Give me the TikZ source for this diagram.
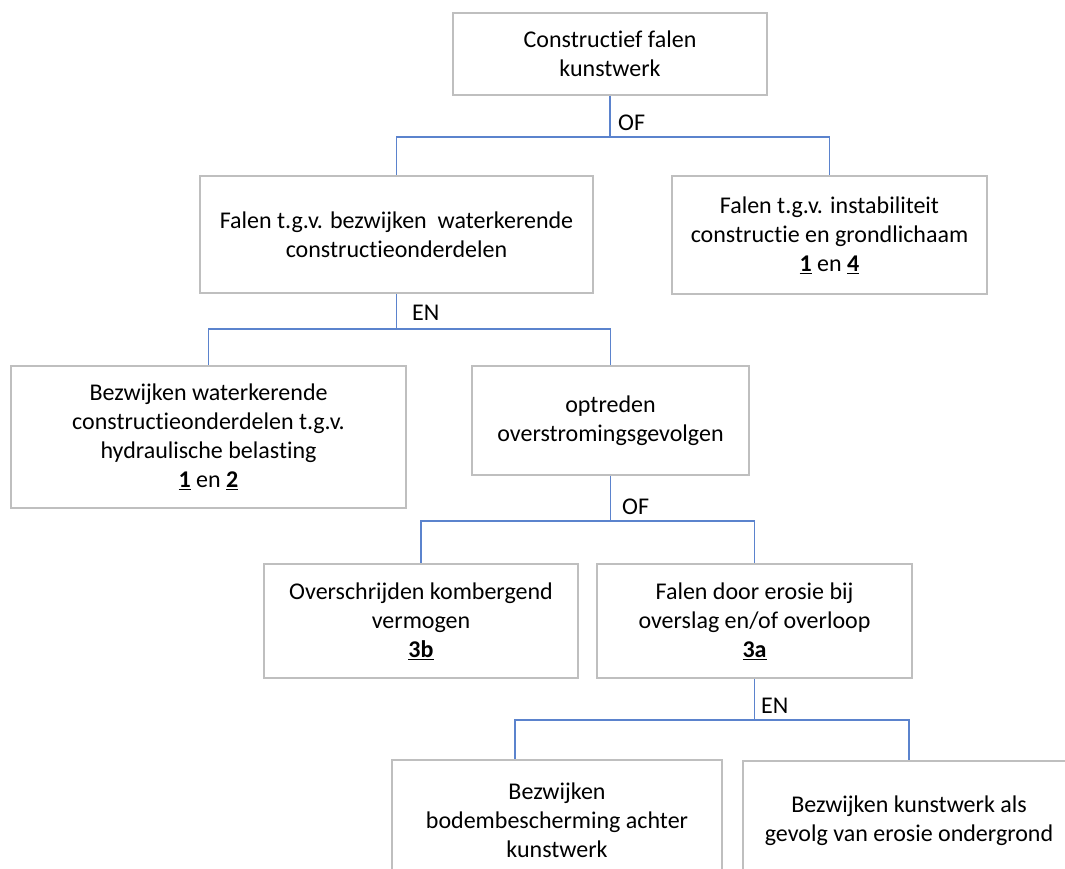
\documentclass[tikz,border=0pt]{standalone}
\usepackage{fontspec}
\setmainfont{Carlito}[Ligatures=NoCommon]
\tikzset{
  blok/.style={draw=black!25, line width=1.6pt, fill=white, inner sep=0pt, align=center,
    font=\fontsize{24}{29}\selectfont},
  lijn/.style={line width=1.1pt, color={rgb,255:red,91;green,131;blue,205}},
  poort/.style={anchor=west, inner sep=0pt, font=\fontsize{24}{29}\selectfont}
}
\newcommand{\nr}[1]{\underline{\textbf{#1}}}

\begin{document}
\begin{tikzpicture}[x=1pt,y=-1pt]
\useasboundingbox (0,0) rectangle (1065,869);
\clip (0,0) rectangle (1065,869);
\node[blok, minimum width=314pt, minimum height=82pt] (top) at (610,54) {Constructief falen\\kunstwerk};
\node[blok, minimum width=393pt, minimum height=117pt] (bezw) at (396.5,234.5) {Falen t.g.v. bezwijken~ waterkerende\\constructieonderdelen};
\node[blok, minimum width=315pt, minimum height=118pt] (inst) at (829.5,235) {Falen t.g.v. instabiliteit\\constructie en grondlichaam\\\nr{1} en \nr{4}};
\node[blok, minimum width=395pt, minimum height=142pt] (hydr) at (208.5,437) {Bezwijken waterkerende\\constructieonderdelen t.g.v.\\hydraulische belasting\\\nr{1} en \nr{2}};
\node[blok, minimum width=277pt, minimum height=109pt] (gevolg) at (610.5,420.5) {optreden\\overstromingsgevolgen};
\node[blok, minimum width=314pt, minimum height=114pt] (komb) at (421,621) {Overschrijden kombergend\\vermogen\\\nr{3b}};
\node[blok, minimum width=315pt, minimum height=114pt] (erosie) at (754.5,621) {Falen door erosie bij\\overslag en/of overloop\\\nr{3a}};
\node[blok, minimum width=330pt, minimum height=120pt] (bodem) at (557,820) {Bezwijken\\bodembescherming achter\\kunstwerk};
\node[blok, minimum width=332pt, minimum height=119pt] (onder) at (909,820.5) {Bezwijken kunstwerk als\\gevolg van erosie ondergrond};

\coordinate (j1) at (top.south |- 0,137);
\coordinate (j2) at (bezw.south |- 0,329);
\coordinate (j3) at (gevolg.south |- 0,521);
\coordinate (j4) at (erosie.south |- 0,720);
\draw[lijn] (top.south) -- (j1);
\draw[lijn] (j1) -| (bezw.north);
\draw[lijn] (j1) -| (inst.north);
\draw[lijn] (bezw.south) -- (j2);
\draw[lijn] (j2) -| (hydr.north);
\draw[lijn] (j2) -| (gevolg.north);
\draw[lijn] (gevolg.south) -- (j3);
\draw[lijn] (j3) -| (komb.north);
\draw[lijn] (j3) -| (erosie.north);
\draw[lijn] (erosie.south) -- (j4);
\draw[lijn] (j4) -| ([xshift=-42pt]bodem.north);
\draw[lijn] (j4) -| (onder.north);

\node[poort] (of1) at (618,123) {OF};
\node[poort] (en1) at (412,313) {EN};
\node[poort] (of2) at (622,507) {OF};
\node[poort] (en2) at (761,706) {EN};
\end{tikzpicture}
\end{document}
